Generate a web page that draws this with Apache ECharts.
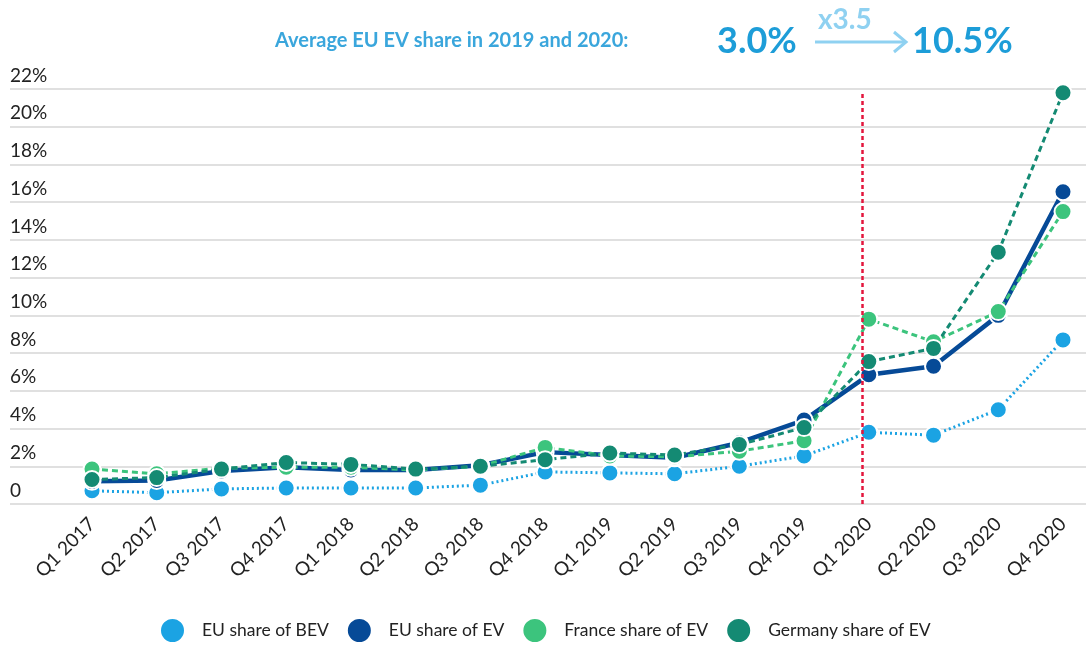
<!DOCTYPE html>
<html>
<head>
<meta charset="utf-8">
<title>EU EV share</title>
<script src="https://cdn.jsdelivr.net/npm/echarts@6/dist/echarts.min.js"></script>
<style>
  html, body { margin: 0; padding: 0; background: #ffffff; }
  #chart { width: 1090px; height: 651px; }
</style>
</head>
<body>
<div id="chart"></div>
<script>
// Quarterly categories
const quarters = [
  'Q1 2017', 'Q2 2017', 'Q3 2017', 'Q4 2017',
  'Q1 2018', 'Q2 2018', 'Q3 2018', 'Q4 2018',
  'Q1 2019', 'Q2 2019', 'Q3 2019', 'Q4 2019',
  'Q1 2020', 'Q2 2020', 'Q3 2020', 'Q4 2020'
];

// Market shares, in percent
const euBev = [0.7, 0.6, 0.8, 0.85, 0.85, 0.85, 1.0, 1.7, 1.65, 1.6, 2.0, 2.55, 3.8, 3.65, 5.0, 8.7];
const euEv = [1.2, 1.25, 1.75, 1.95, 1.8, 1.8, 2.05, 2.75, 2.6, 2.45, 3.25, 4.45, 6.85, 7.3, 10.0, 16.55];
const franceEv = [1.85, 1.6, 1.9, 1.95, 1.95, 1.8, 2.0, 3.0, 2.55, 2.5, 2.8, 3.35, 9.8, 8.6, 10.2, 15.5];
const germanyEv = [1.3, 1.4, 1.85, 2.2, 2.1, 1.85, 2.0, 2.35, 2.7, 2.6, 3.15, 4.05, 7.55, 8.25, 13.35, 21.8];

const seriesNames = ['EU share of BEV', 'EU share of EV', 'France share of EV', 'Germany share of EV'];

// Y axis range and step (percent)
const yMin = 0;
const yMax = 22;
const yStep = 2;

// Position of the 2020 divider, in quarter index units
const dividerPos = 11.9;

// Headline figures
const headline = 'Average EU EV share in 2019 and 2020:';
const avg2019 = '3.0%';
const avg2020 = '10.5%';
const growth = 'x3.5';

const FONT = 'Lato, "Open Sans", sans-serif';
const C_BEV = '#1ba3e3';
const C_EV = '#064a97';
const C_FR = '#3cc47d';
const C_DE = '#148a73';
const C_HEAD = '#3aa6dc';
const C_BIG = '#1d9dd8';
const C_PALE = '#8fd1f1';

function lineSeries(name, data, color, lineType, width) {
  return {
    name: name,
    type: 'line',
    xAxisIndex: 1,
    yAxisIndex: 1,
    data: data,
    symbol: 'circle',
    symbolSize: 17,
    showSymbol: true,
    itemStyle: { color: color, borderColor: '#ffffff', borderWidth: 2 },
    lineStyle: { color: color, width: width, type: lineType },
    emphasis: { disabled: true },
    animation: false
  };
}

const chart = echarts.init(document.getElementById('chart'));

chart.setOption({
  backgroundColor: '#ffffff',
  textStyle: { fontFamily: FONT },
  grid: [
    // full-width grid carrying the horizontal rules and percent labels
    { left: 10, right: 4, top: 89, bottom: 147 },
    // plotting grid for the quarterly series
    { left: 92, right: 27, top: 89, bottom: 147 }
  ],
  xAxis: [
    { gridIndex: 0, type: 'value', show: false, min: 0, max: 1 },
    {
      gridIndex: 1,
      type: 'category',
      data: quarters,
      boundaryGap: false,
      axisLine: { show: false },
      axisTick: { show: false },
      axisLabel: {
        rotate: 45,
        margin: 17,
        color: '#222222',
        fontFamily: FONT,
        fontSize: 19,
        interval: 0
      }
    },
    { gridIndex: 1, type: 'value', show: false, min: 0, max: quarters.length - 1 }
  ],
  yAxis: [
    {
      gridIndex: 0,
      type: 'value',
      min: yMin,
      max: yMax,
      interval: yStep,
      axisLine: { show: false },
      axisTick: { show: false },
      splitLine: { lineStyle: { color: '#d6d6d6', width: 1.5 } },
      axisLabel: {
        inside: true,
        margin: 0,
        verticalAlign: 'bottom',
        padding: [0, 0, 4, 0],
        color: '#222222',
        fontFamily: FONT,
        fontSize: 19,
        formatter: function (v) { return v === 0 ? '0' : v + '%'; }
      }
    },
    { gridIndex: 1, type: 'value', min: yMin, max: yMax, interval: yStep, show: false }
  ],
  legend: {
    bottom: 2,
    left: 154,
    icon: 'circle',
    itemWidth: 25,
    itemHeight: 25,
    itemGap: 17,
    data: seriesNames,
    textStyle: { color: '#222222', fontFamily: FONT, fontSize: 17.5, padding: [0, 0, 0, 12] }
  },
  series: [
    lineSeries(seriesNames[0], euBev, C_BEV, [2, 3], 3),
    lineSeries(seriesNames[1], euEv, C_EV, 'solid', 4.5),
    lineSeries(seriesNames[2], franceEv, C_FR, [6, 4], 3),
    lineSeries(seriesNames[3], germanyEv, C_DE, [6, 4], 3),
    {
      // 2020 divider
      type: 'line',
      xAxisIndex: 2,
      yAxisIndex: 1,
      data: [],
      silent: true,
      animation: false,
      markLine: {
        symbol: 'none',
        silent: true,
        label: { show: false },
        lineStyle: { color: '#e3163d', width: 2.5, type: [4, 3] },
        data: [[{ coord: [dividerPos, yMin] }, { coord: [dividerPos, yMax - 0.15] }]]
      }
    }
  ],
  graphic: [
    {
      type: 'text', left: 275, top: 31,
      style: { text: headline, fill: C_HEAD, font: 'bold 20px ' + FONT }
    },
    {
      type: 'text', left: 717, top: 23,
      style: { text: avg2019, fill: C_BIG, font: 'bold 36px ' + FONT }
    },
    {
      type: 'text', left: 912, top: 23,
      style: { text: avg2020, fill: C_BIG, font: 'bold 36px ' + FONT }
    },
    {
      type: 'text', left: 818, top: 6,
      style: { text: growth, fill: C_PALE, font: 'bold 28px ' + FONT }
    },
    {
      type: 'polyline',
      shape: { points: [[815, 42], [905, 42]] },
      style: { stroke: C_PALE, lineWidth: 3 }
    },
    {
      type: 'polyline',
      shape: { points: [[894, 32], [906, 42], [894, 52]] },
      style: { stroke: C_PALE, lineWidth: 3, fill: null }
    }
  ]
});
</script>
</body>
</html>
